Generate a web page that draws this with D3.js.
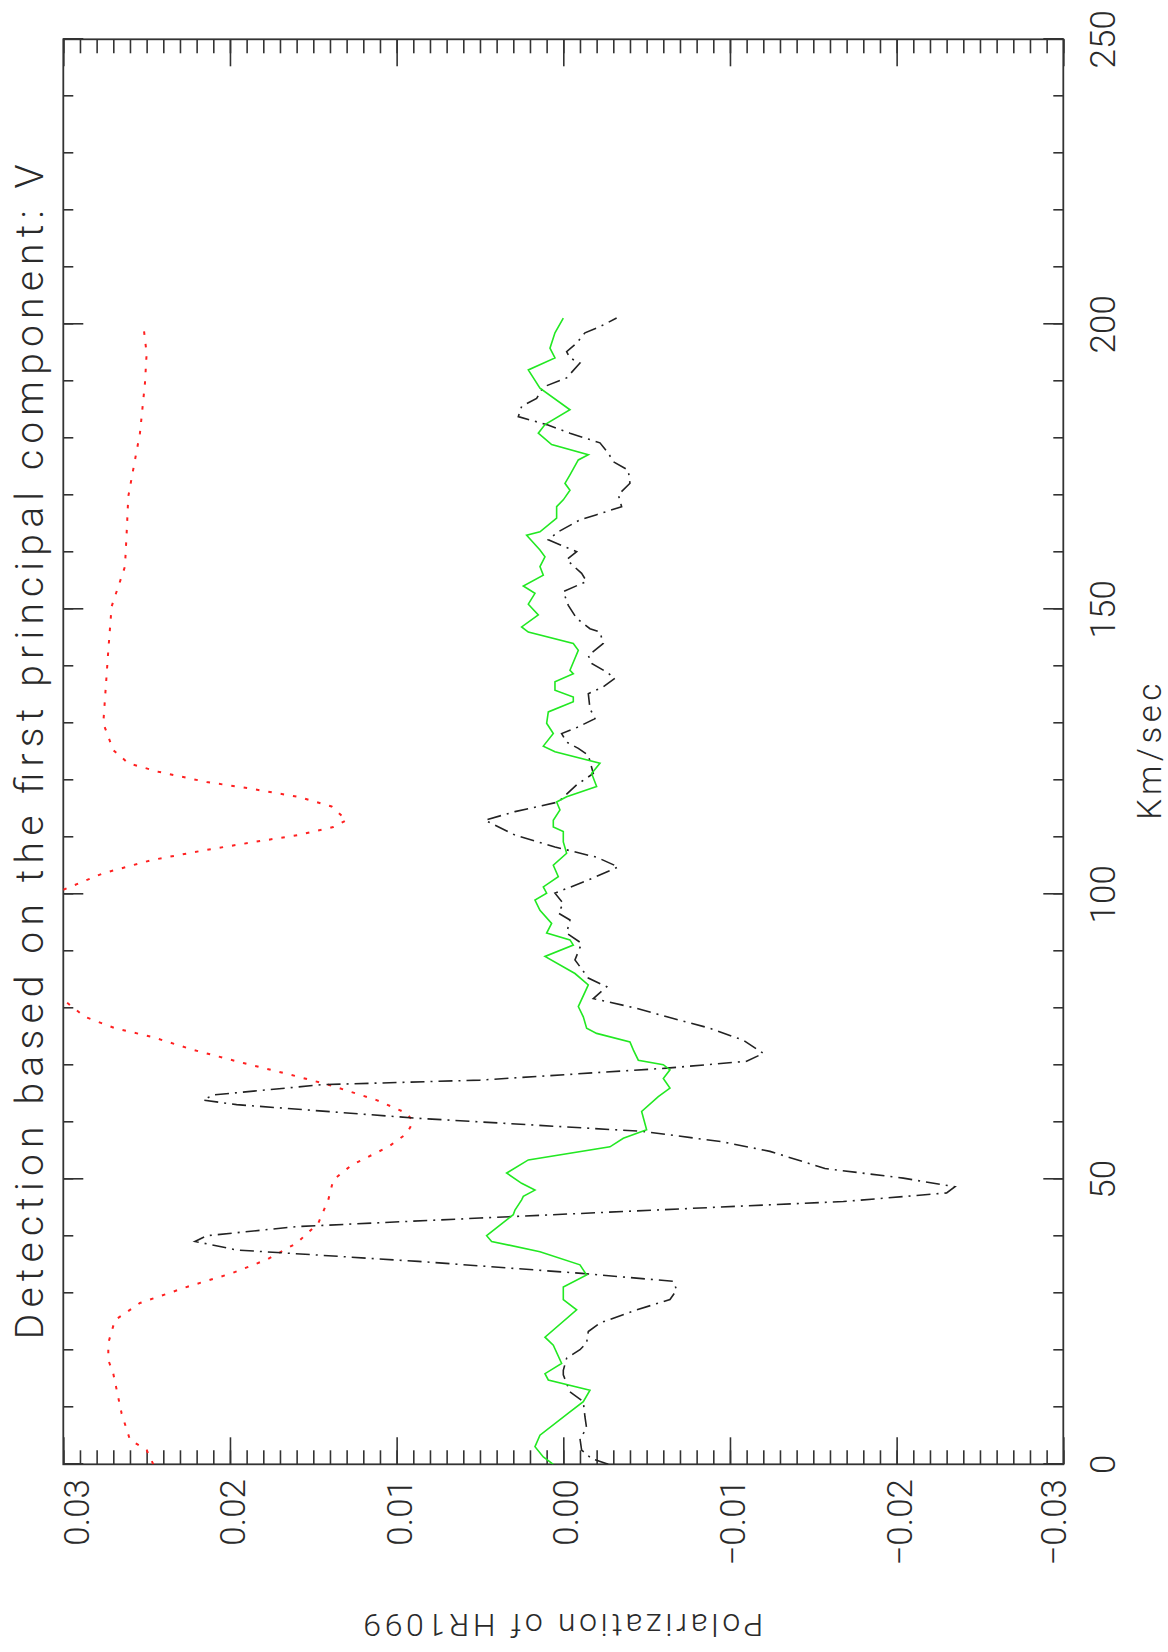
<!DOCTYPE html>
<html>
<head>
<meta charset="utf-8">
<script src="https://cdn.jsdelivr.net/npm/d3@7/dist/d3.min.js"></script>
<style>
  html, body { margin: 0; padding: 0; background: #fff; }
  svg { display: block; }
  text { font-family: Roboto, "Liberation Sans", sans-serif; font-weight: 300; fill: #2a2a2a; }
</style>
</head>
<body>
<div id="chart"></div>
<script>
// Velocity axis ticks (km/s) and polarization axis ticks
const velocityTicks = [0, 50, 100, 150, 200, 250];
const polarizationTicks = [0.03, 0.02, 0.01, 0.00, -0.01, -0.02, -0.03];
const polarizationLabels = ["0.03", "0.02", "0.01", "0.00", "\u22120.01", "\u22120.02", "\u22120.03"];

// Mean intensity profile, scaled onto the polarization axis (null = off scale)
const intensityProfile = [
  [0, 0.0246], [2.5, 0.0250], [4.3, 0.0260], [8.9, 0.0265], [15.9, 0.0270], [18.3, 0.0273],
  [21.3, 0.0273], [25.3, 0.0269], [28.3, 0.0254], [31.2, 0.0225], [33.5, 0.0199], [35.9, 0.0178],
  [38.8, 0.0160], [42.3, 0.0147], [46.4, 0.0141], [49.9, 0.0138], [52.5, 0.0127], [55.7, 0.0105],
  [58.0, 0.0094], [60.1, 0.0090], [61.6, 0.0094], [63.9, 0.0112], [66.6, 0.0141], [68.3, 0.0163],
  [70.4, 0.0192], [72.7, 0.0222], [75.0, 0.0247], [76.5, 0.0269], [78.5, 0.0287], [81.5, 0.0300],
  [91, null],
  [100.8, 0.0300], [103.7, 0.0276], [106.0, 0.0247], [107.8, 0.0214], [109.2, 0.0185],
  [110.4, 0.0159], [111.8, 0.0138], [113.0, 0.0130], [115.4, 0.0139], [117.1, 0.0159],
  [118.6, 0.0189], [119.7, 0.0214], [121.5, 0.0243], [123.0, 0.0261], [125.3, 0.0270],
  [130.0, 0.0276], [142.8, 0.0273], [150.5, 0.0271], [157.5, 0.0263], [163.3, 0.0262],
  [169.8, 0.0261], [176.2, 0.0257], [180.9, 0.0254], [189.7, 0.0251], [194.9, 0.0250], [199.9, 0.0252]
];

// Stokes V signature of the first principal component
const stokesV = [
  [0.0, -0.0027], [1.0, -0.0017], [2.5, -0.0011], [4.5, -0.0010], [6.3, -0.0014], [8.3, -0.0013],
  [11.0, -0.0012], [12.7, -0.0004], [15.7, 0.0000], [16.5, 0.0000], [18.6, -0.0002], [20.1, -0.0010],
  [21.3, -0.0014], [23.3, -0.0015], [24.8, -0.0022], [27.1, -0.0044], [28.9, -0.0064], [30.6, -0.0068],
  [32.1, -0.0066], [33.5, -0.0011], [35.6, 0.0087], [37.6, 0.0196], [39.1, 0.0221], [40.1, 0.0214],
  [41.7, 0.0160], [43.2, 0.0050], [44.9, -0.0077], [46.1, -0.0168], [47.6, -0.0230], [48.7, -0.0235],
  [50.2, -0.0204], [51.9, -0.0157], [54.9, -0.0124], [56.6, -0.0095], [58.4, -0.0048], [60.7, 0.0087],
  [63.1, 0.0196], [63.9, 0.0216], [64.8, 0.0210], [66.6, 0.0145], [67.4, 0.0050], [69.5, -0.0062],
  [70.7, -0.0110], [72.1, -0.0120], [74.4, -0.0108], [76.5, -0.0088], [78.2, -0.0066], [80.0, -0.0044],
  [81.7, -0.0018], [83.8, -0.0026], [85.3, -0.0015], [88.5, -0.0007], [91.4, -0.0011], [93.2, -0.0002],
  [95.5, -0.0004], [96.7, 0.0003], [98.4, 0.0000], [100.2, 0.0005], [102.5, -0.0015], [104.8, -0.0033],
  [106.5, -0.0020], [108.3, 0.0005], [110.4, 0.0029], [113.0, 0.0047], [114.5, 0.0029], [116.2, 0.0003],
  [119.2, -0.0008], [121.2, -0.0018], [124.4, -0.0015], [125.6, -0.0009], [126.7, -0.0002], [128.2, 0.0001],
  [129.1, -0.0007], [130.8, -0.0019], [132.6, -0.0016], [135.2, -0.0015], [136.4, -0.0024], [137.9, -0.0031],
  [139.0, -0.0026], [140.5, -0.0017], [141.9, -0.0015], [144.0, -0.0024], [146.0, -0.0022], [146.6, -0.0016],
  [148.4, -0.0008], [150.7, -0.0003], [153.1, 0.0000], [154.9, -0.0014], [156.3, -0.0011], [158.7, -0.0002],
  [160.1, -0.0008], [162.2, 0.0009], [163.6, 0.0003], [165.7, -0.0010], [166.6, -0.0020], [168.0, -0.0035],
  [170.1, -0.0033], [172.1, -0.0040], [174.4, -0.0039], [175.9, -0.0030], [177.4, -0.0027], [179.2, -0.0022],
  [180.9, -0.0004], [182.4, 0.0010], [183.8, 0.0027], [185.6, 0.0025], [187.0, 0.0016], [189.0, 0.0012],
  [190.6, -0.0002], [193.2, -0.0010], [194.1, -0.0004], [195.2, -0.0002], [196.7, -0.0008], [198.5, -0.0013],
  [199.6, -0.0022], [201.1, -0.0032]
];

// Null profile computed from the same exposures
const nullProfile = [
  [0.0, 0.0006], [1.3, 0.0012], [3.1, 0.0017], [5.1, 0.0014], [9.2, -0.0004], [11.0, -0.0012],
  [13.0, -0.0016], [14.8, 0.0009], [15.9, 0.0011], [17.7, 0.0001], [20.9, 0.0006], [22.3, 0.0011],
  [27.1, -0.0008], [28.9, 0.0000], [31.1, 0.0000], [33.2, -0.0014], [35.0, -0.0010], [37.3, 0.0014],
  [39.1, 0.0043], [40.1, 0.0046], [43.8, 0.0030], [44.6, 0.0029], [46.4, 0.0025], [47.0, 0.0024],
  [48.1, 0.0017], [49.3, 0.0025], [51.1, 0.0034], [53.4, 0.0021], [55.7, -0.0028], [57.2, -0.0036],
  [58.7, -0.0050], [61.9, -0.0047], [64.5, -0.0057], [66.0, -0.0064], [67.7, -0.0060], [69.2, -0.0064],
  [70.1, -0.0060], [70.9, -0.0045], [72.7, -0.0042], [74.1, -0.0040], [75.6, -0.0020], [76.5, -0.0014],
  [78.5, -0.0012], [80.3, -0.0009], [84.1, -0.0015], [86.1, -0.0007], [89.1, 0.0011], [91.1, -0.0006],
  [92.0, -0.0004], [93.2, 0.0010], [94.9, 0.0007], [97.2, 0.0014], [99.0, 0.0017], [100.2, 0.0010],
  [101.3, 0.0012], [103.1, 0.0003], [105.1, 0.0006], [107.2, -0.0002], [109.2, 0.0000], [111.0, 0.0000],
  [111.8, 0.0006], [113.0, 0.0006], [114.8, 0.0002], [116.2, 0.0004], [117.1, -0.0002], [118.9, -0.0020],
  [121.2, -0.0017], [123.0, -0.0022], [125.0, 0.0005], [126.0, 0.0012], [128.2, 0.0006], [130.0, 0.0010],
  [132.0, 0.0009], [133.8, -0.0006], [134.6, -0.0006], [135.8, 0.0005], [137.3, 0.0005], [138.7, -0.0006],
  [139.3, -0.0004], [142.8, -0.0009], [144.0, -0.0006], [146.0, 0.0021], [146.9, 0.0025], [149.0, 0.0015],
  [150.9, 0.0021], [152.8, 0.0017], [154.1, 0.0024], [156.0, 0.0012], [157.5, 0.0014], [159.2, 0.0011],
  [160.4, 0.0014], [163.0, 0.0022], [163.6, 0.0014], [166.0, 0.0004], [168.0, 0.0004], [169.2, 0.0000],
  [170.9, -0.0004], [172.1, -0.0001], [173.6, -0.0004], [176.2, -0.0009], [177.1, -0.0015], [178.9, 0.0007],
  [180.9, 0.0015], [182.4, 0.0011], [185.0, -0.0004], [188.8, 0.0014], [192.0, 0.0021], [194.1, 0.0005],
  [195.8, 0.0008], [198.5, 0.0005], [201.1, 0.0000]
];

const titleText = "Detection based on the first principal component:  V";
const xLabel = "Km/sec";
const yLabel = "Polarization of HR1099";

// The plot is laid out in landscape and turned a quarter turn on the page.
const W = 1168, H = 1652;
const frame = { left: 187.7, right: 1612.7, top: 63.3, bottom: 1063.3 };

const x = d3.scaleLinear().domain([0, 250]).range([frame.left, frame.right]);
const y = d3.scaleLinear().domain([0.03, -0.03]).range([frame.top, frame.bottom]);

const svg = d3.select("#chart").append("svg").attr("width", W).attr("height", H);
const g = svg.append("g").attr("transform", `translate(0,${H}) rotate(-90)`);

g.append("clipPath").attr("id", "plot-clip")
  .append("rect")
  .attr("x", frame.left).attr("y", frame.top)
  .attr("width", frame.right - frame.left).attr("height", frame.bottom - frame.top);

// Tick marks on all four sides, pointing inwards
const axisColor = "#333";
const velMinor = d3.range(0, 251, 10);
const polMinor = d3.range(-30, 31, 1).map(d => d / 1000);

function drawTicks(axis, tx, ty) {
  const a = g.append("g").attr("transform", `translate(${tx},${ty})`).call(axis);
  a.select(".domain").remove();
  a.selectAll("text").remove();
  a.selectAll("line").attr("stroke", axisColor).attr("stroke-width", 1.6);
}
drawTicks(d3.axisTop(x).tickValues(velMinor).tickSize(10).tickFormat(""), 0, frame.bottom);
drawTicks(d3.axisTop(x).tickValues(velocityTicks).tickSize(20).tickFormat(""), 0, frame.bottom);
drawTicks(d3.axisBottom(x).tickValues(velMinor).tickSize(10).tickFormat(""), 0, frame.top);
drawTicks(d3.axisBottom(x).tickValues(velocityTicks).tickSize(20).tickFormat(""), 0, frame.top);
drawTicks(d3.axisRight(y).tickValues(polMinor).tickSize(14).tickFormat(""), frame.left, 0);
drawTicks(d3.axisRight(y).tickValues(polarizationTicks).tickSize(27).tickFormat(""), frame.left, 0);
drawTicks(d3.axisLeft(y).tickValues(polMinor).tickSize(14).tickFormat(""), frame.right, 0);
drawTicks(d3.axisLeft(y).tickValues(polarizationTicks).tickSize(27).tickFormat(""), frame.right, 0);

g.append("rect")
  .attr("x", frame.left).attr("y", frame.top)
  .attr("width", frame.right - frame.left).attr("height", frame.bottom - frame.top)
  .attr("fill", "none").attr("stroke", axisColor).attr("stroke-width", 1.8);

// Curves
const line = d3.line()
  .defined(d => d[1] !== null)
  .x(d => x(d[0]))
  .y(d => y(d[1]));

const curves = g.append("g").attr("clip-path", "url(#plot-clip)");
curves.append("path").datum(intensityProfile)
  .attr("d", line).attr("fill", "none")
  .attr("stroke", "#ff2020").attr("stroke-width", 2).attr("stroke-dasharray", "3.5 9");
curves.append("path").datum(stokesV)
  .attr("d", line).attr("fill", "none")
  .attr("stroke", "#222").attr("stroke-width", 1.6).attr("stroke-dasharray", "14 6 2 6");
curves.append("path").datum(nullProfile)
  .attr("d", line).attr("fill", "none")
  .attr("stroke", "#22e822").attr("stroke-width", 1.6);

// Tick labels
g.selectAll(".vlab").data(velocityTicks).enter().append("text")
  .attr("class", "vlab")
  .attr("x", d => x(d)).attr("y", 1115)
  .attr("text-anchor", "middle").attr("font-size", 35)
  .text(d => d);

g.selectAll(".plab").data(polarizationTicks).enter().append("text")
  .attr("class", "plab")
  .attr("x", 173)
  .attr("y", d => Math.min(Math.max(y(d) + 15, frame.top + 26), frame.bottom + 3))
  .attr("text-anchor", "end").attr("font-size", 35)
  .text((d, i) => polarizationLabels[i]);

// Axis titles and heading
const midU = (frame.left + frame.right) / 2;
g.append("text")
  .attr("x", midU).attr("y", 43)
  .attr("text-anchor", "middle").attr("font-size", 39)
  .attr("textLength", 1175).attr("lengthAdjust", "spacing")
  .text(titleText);

g.append("text")
  .attr("x", midU).attr("y", 1161)
  .attr("text-anchor", "middle").attr("font-size", 33)
  .attr("textLength", 136).attr("lengthAdjust", "spacing")
  .text(xLabel);

g.append("text")
  .attr("transform", `translate(38,${(frame.top + frame.bottom) / 2}) rotate(-90)`)
  .attr("text-anchor", "middle").attr("font-size", 32)
  .attr("textLength", 400).attr("lengthAdjust", "spacing")
  .text(yLabel);
</script>
</body>
</html>
